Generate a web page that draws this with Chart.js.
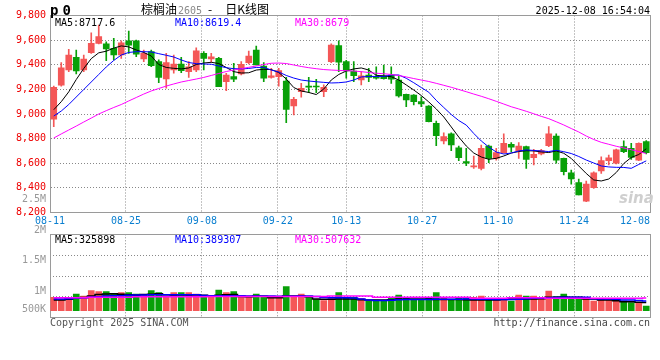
<!DOCTYPE html>
<html><head><meta charset="utf-8">
<script src="https://cdn.jsdelivr.net/npm/chart.js@4.4.1/dist/chart.umd.min.js"></script>
<style>
html,body{margin:0;padding:0;background:#fff;}
#wrap{position:relative;width:660px;height:360px;overflow:hidden;background:#fff;}
canvas{position:absolute;left:0;}
#cA{top:0;}
#cB{top:190px;}
.t{position:absolute;white-space:nowrap;font-family:"DejaVu Sans Mono",monospace;line-height:1;}
.cjk{font-family:"Noto Sans CJK SC",sans-serif;}
</style></head><body>
<div id="wrap">
<canvas id="cA" width="660" height="232"></canvas>
<canvas id="cB" width="660" height="150"></canvas>
<div class="t" style="left:50px;top:3px;font-weight:bold;font-size:14px;letter-spacing:4px;">p0</div>
<div class="t" id="title" style="left:141px;top:3px;font-size:12px;"></div>
<div class="t" id="stamp" style="right:10px;top:6px;font-size:10px;color:#000;"></div>
<div class="t" id="maP" style="left:55px;top:18px;font-size:10px;"></div>
<div class="t" id="maV" style="left:55px;top:235px;font-size:10px;"></div>
<div class="t" style="left:619px;top:191px;font-size:15px;font-weight:bold;font-style:italic;color:#cfcfcf;font-family:'DejaVu Sans',sans-serif;">sina</div>
<div class="t" style="left:50px;top:318px;font-size:10px;color:#555;">Copyright 2025 SINA.COM</div>
<div class="t" style="right:10px;top:318px;font-size:10px;color:#444;">http://finance.sina.com.cn</div>
</div>
<script>
// ---------------- data ----------------
const productName = '棕榈油';
const contractCode = '2605';
const chartKind = '日K线图';
const stampText = '2025-12-08 16:54:04';

const dates = ['08-11','08-12','08-13','08-14','08-15','08-18','08-19','08-20','08-21','08-22',
'08-25','08-26','08-27','08-28','08-29','09-01','09-02','09-03','09-04','09-05',
'09-08','09-09','09-10','09-11','09-12','09-15','09-16','09-17','09-18','09-19',
'09-22','09-23','09-24','09-25','09-26','09-29','09-30','10-09','10-10','10-13',
'10-14','10-15','10-16','10-17','10-20','10-21','10-22','10-23','10-24','10-27',
'10-28','10-29','10-30','10-31','11-03','11-04','11-05','11-06','11-07','11-10',
'11-11','11-12','11-13','11-14','11-17','11-18','11-19','11-20','11-21','11-24',
'11-25','11-26','11-27','11-28','12-01','12-02','12-03','12-04','12-05','12-08'];

const xTickLabels = ['08-11','08-25','09-08','09-22','10-13','10-27','11-10','11-24','12-08'];
const priceTicks = [8200,8400,8600,8800,9000,9200,9400,9600,9800];

const openPx = [8957,9235,9357,9460,9357,9498,9574,9569,9534,9479,
9595,9595,9447,9506,9425,9284,9357,9406,9344,9357,
9493,9447,9452,9262,9303,9325,9417,9520,9390,9298,
9303,9268,9065,9181,9227,9225,9181,9425,9555,9425,
9349,9276,9317,9303,9309,9317,9276,9160,9154,9100,
9065,8924,8781,8838,8726,8613,8570,8559,8740,8640,
8686,8754,8702,8735,8645,8675,8743,8821,8640,8523,
8442,8293,8401,8537,8621,8600,8735,8721,8626,8775];
const highPx = [9227,9417,9525,9520,9479,9660,9723,9587,9615,9595,
9674,9601,9520,9520,9439,9493,9479,9460,9425,9538,
9506,9493,9460,9331,9412,9425,9512,9552,9417,9371,
9371,9298,9136,9249,9298,9282,9236,9569,9595,9435,
9425,9344,9371,9384,9398,9384,9309,9162,9157,9140,
9068,8943,8848,8848,8740,8721,8659,8748,8748,8721,
8838,8767,8767,8740,8713,8713,8897,8838,8642,8545,
8472,8456,8531,8653,8667,8716,8783,8762,8765,8785];
const lowPx = [8897,9227,9344,9325,9344,9493,9569,9433,9439,9452,
9493,9465,9425,9384,9254,9209,9331,9335,9298,9344,
9357,9420,9222,9189,9262,9317,9406,9398,9262,9290,
9227,8929,8992,9136,9173,9173,9140,9417,9344,9290,
9262,9236,9262,9282,9282,9249,9136,9059,9073,9059,
8935,8743,8756,8702,8620,8580,8559,8545,8605,8626,
8681,8694,8640,8559,8586,8667,8735,8600,8505,8431,
8342,8288,8396,8518,8586,8594,8686,8632,8620,8675];
const closePx = [9217,9376,9479,9349,9447,9574,9628,9528,9479,9579,
9560,9485,9493,9392,9298,9417,9406,9352,9384,9514,
9452,9465,9222,9317,9282,9404,9471,9398,9290,9309,
9352,9038,9119,9209,9217,9219,9217,9560,9420,9349,
9311,9309,9298,9290,9287,9282,9146,9114,9100,9081,
8937,8824,8816,8748,8645,8600,8574,8721,8640,8686,
8762,8730,8740,8632,8673,8702,8838,8626,8531,8472,
8342,8431,8523,8621,8645,8708,8694,8648,8762,8686];

const ma5 = [9035,9100,9180,9280,9370,9450,9497,9510,9535,9553,
9545,9520,9500,9471,9402,9378,9371,9366,9374,9402,
9414,9420,9410,9378,9344,9333,9335,9357,9363,9361,
9337,9284,9215,9187,9175,9158,9203,9276,9321,9349,
9366,9374,9357,9314,9309,9303,9276,9236,9195,9150,
9098,9041,8976,8895,8813,8740,8683,8651,8632,8640,
8659,8683,8695,8702,8700,8692,8687,8700,8681,8639,
8578,8517,8464,8456,8472,8525,8598,8647,8671,8717.6];
const ma10 = [8984,9024,9077,9138,9199,9260,9321,9382,9435,9479,
9500,9506,9506,9504,9490,9477,9463,9439,9418,9409,
9406,9404,9390,9376,9368,9366,9370,9378,9379,9357,
9341,9313,9292,9276,9268,9262,9257,9252,9254,9260,
9276,9301,9305,9305,9305,9317,9317,9290,9254,9215,
9177,9111,9053,8996,8947,8910,8842,8781,8732,8691,
8675,8683,8700,8708,8704,8700,8695,8705,8694,8679,
8655,8626,8602,8578,8570,8567,8566,8559,8590,8619.4];
const ma30 = [8805,8838,8870,8902,8935,8967,9000,9027,9053,9077,
9106,9134,9162,9187,9207,9227,9244,9260,9272,9284,
9297,9313,9329,9345,9357,9368,9379,9390,9402,9412,
9414,9410,9398,9386,9376,9368,9361,9357,9354,9352,
9349,9344,9337,9331,9327,9321,9313,9301,9288,9276,
9264,9249,9233,9217,9199,9181,9162,9144,9124,9103,
9081,9059,9041,9022,9002,8981,8962,8937,8911,8882,
8854,8821,8793,8770,8754,8738,8724,8710,8695,8679];
const priceMaLegend = [8717.6, 8619.4, 8679];

const volume = [532,428,428,668,588,800,760,760,692,720,
720,668,628,800,720,588,720,720,720,668,
532,588,828,720,760,588,588,668,588,532,
560,960,588,668,588,452,400,532,720,532,
532,492,388,428,400,532,628,492,452,452,
532,720,492,452,532,532,532,588,480,492,
492,388,628,588,588,492,788,560,668,532,
532,492,388,452,428,428,388,320,320,188].map(v => v * 1000);
const volMa5 = [430,430,460,520,530,590,650,670,680,660,
640,630,650,660,680,640,630,640,630,640,
620,600,620,640,650,570,560,590,580,520,
520,590,590,590,560,470,460,460,470,470,
470,440,430,430,430,440,470,470,470,470,
470,450,450,450,450,440,430,430,430,430,
450,470,470,470,470,480,540,540,550,540,
540,470,470,430,430,400,360,360,340,325.898].map(v => v * 1000);
const volMa10 = [470,470,480,510,520,540,560,590,600,600,
620,630,630,640,640,640,640,640,640,640,
610,600,600,600,600,600,590,590,590,590,
580,580,580,590,590,570,530,520,520,520,
510,470,430,410,410,420,440,450,450,450,
450,460,460,460,460,470,470,460,460,450,
450,450,460,480,500,500,510,530,540,540,
540,540,480,470,470,460,430,430,410,389.307].map(v => v * 1000);
const volMa30 = [520,520,520,520,520,540,540,540,540,540,
540,560,560,560,560,560,560,560,560,560,
560,570,570,570,570,570,570,570,570,570,
570,570,570,570,570,570,570,590,590,590,
590,590,590,540,540,540,540,540,540,540,
540,540,540,540,540,540,500,500,500,500,
500,520,520,520,520,520,500,500,500,500,
500,500,500,500,500,500,500,500,500,507.632].map(v => v * 1000);
const volMaLegend = [325898, 389307, 507632];
const volTickLabels = ['2.5M','2M','1.5M','1M','500K'];
const volTickValues = [2500000,2000000,1500000,1000000,500000];

// ---------------- styles / layout ----------------
const MONO = "'DejaVu Sans Mono', monospace";
const RED = '#f45757', GREEN = '#08a008';
const GRID = '#888888', BORDER = '#9a9a9a';
const MA_COLORS = ['#000000', '#0000ff', '#ff00ff'];
const AREA_A = {top: 15.5, bottom: 212.5, left: 50, right: 650, h: 232};
const AREA_B = {top: 44.3, bottom: 127.7, left: 50, right: 650, h: 150};
const VOL_MIN = -280000, VOL_MAX = 3056000;      // bar scale of the volume panel
const VL_MIN = 562300, VL_MAX = 1929500;          // scale used by the volume tick labels

const candleColor = closePx.map((c, i) => c >= openPx[i] ? RED : GREEN);
const tickIdx = xTickLabels.map(l => dates.indexOf(l));
const lastIdx = dates.length - 1;

// texts
document.getElementById('title').innerHTML =
  '<span class="cjk">' + productName + '</span>' +
  '<span style="color:#8a8a8a;font-size:10px;margin-left:1px;">' + contractCode + '</span>' +
  '<span class="cjk" style="margin-left:6px;">-</span>' +
  '<span class="cjk" style="margin-left:13px;">' + chartKind + '</span>';
document.getElementById('stamp').textContent = stampText;
const maNames = ['MA5', 'MA10', 'MA30'];
const maLeft = [0, 120, 240];
function writeLegend(el, vals) {
  el.innerHTML = vals.map((v, k) =>
    '<span style="position:absolute;left:' + maLeft[k] + 'px;color:' + MA_COLORS[k] + '">' + maNames[k] + ':' + v + '</span>').join('');
}
writeLegend(document.getElementById('maP'), priceMaLegend);
writeLegend(document.getElementById('maV'), volMaLegend);

const zeroFit = s => { if (s.isHorizontal()) s.height = 0; else s.width = 0; };
function dateGridAxis(extra) {
  return Object.assign({
    type: 'linear', axis: 'x', position: 'bottom', min: 0, max: lastIdx, bounds: 'data', offset: false,
    afterBuildTicks: s => { s.ticks = tickIdx.map(v => ({value: v})); },
    ticks: {display: false},
    grid: {display: true, color: GRID, lineWidth: 1, drawTicks: false, offset: false},
    border: {display: true, color: BORDER, width: 1, dash: [1, 2]},
    afterFit: zeroFit
  }, extra || {});
}
function borderAxis(axis, position) {
  return {
    type: 'linear', axis: axis, position: position, display: true, offset: false,
    ticks: {display: false}, grid: {display: false, drawTicks: false, offset: false},
    border: {display: true, color: BORDER, width: 1}, afterFit: zeroFit
  };
}
const lineDs = (data, k, extra) => Object.assign({
  type: 'line', data: data, borderColor: MA_COLORS[k], borderWidth: 1, pointRadius: 0,
  tension: 0, fill: false, xAxisID: 'x', yAxisID: 'y', order: 0
}, extra || {});

// ---------------- price chart ----------------
new Chart(document.getElementById('cA'), {
  type: 'bar',
  data: {
    labels: dates,
    datasets: [
      lineDs(ma30, 2), lineDs(ma10, 1), lineDs(ma5, 0),
      {type: 'bar', data: openPx.map((o, i) => [o, closePx[i]]), backgroundColor: candleColor,
        barThickness: 6, minBarLength: 1, grouped: false, borderWidth: 0, xAxisID: 'x', yAxisID: 'y', order: 1},
      {type: 'bar', data: lowPx.map((l, i) => [l, highPx[i]]), backgroundColor: candleColor,
        barThickness: 1, grouped: false, borderWidth: 0, xAxisID: 'x', yAxisID: 'y', order: 2}
    ]
  },
  options: {
    responsive: false, animation: false, events: [], devicePixelRatio: 1,
    layout: {padding: {top: AREA_A.top, right: 660 - AREA_A.right, left: 0, bottom: 0}, autoPadding: false},
    plugins: {legend: {display: false}, tooltip: {enabled: false}},
    scales: {
      x: {type: 'category', display: false, offset: true},
      xg: dateGridAxis({weight: 0}),
      xl: {
        type: 'linear', axis: 'x', position: 'bottom', weight: 1, min: 0, max: lastIdx, bounds: 'data', offset: false,
        afterBuildTicks: s => {
          const perPx = (s.max - s.min) / (AREA_A.right - AREA_A.left);
          const halfW = 15;  // half the width of a 5-character label
          s.ticks = tickIdx.map(v => ({value: Math.min(v, s.max - halfW * perPx)}));
        },
        ticks: {color: '#0a7fd0', font: {family: MONO, size: 10}, padding: 3, autoSkip: false,
          maxRotation: 0, minRotation: 0, callback: (v, k) => xTickLabels[k]},
        grid: {display: false, drawTicks: false, offset: false}, border: {display: false},
        afterFit: s => { s.height = AREA_A.h - AREA_A.bottom; }
      },
      xt: borderAxis('x', 'top'),
      y: {
        type: 'linear', position: 'left', min: priceTicks[0], max: priceTicks[priceTicks.length - 1], bounds: 'data',
        afterBuildTicks: s => { s.ticks = priceTicks.map(v => ({value: v})); },
        ticks: {color: '#ee0000', font: {family: MONO, size: 10}, padding: 4, autoSkip: false},
        grid: {display: true, color: GRID, lineWidth: 1, drawTicks: false},
        border: {display: true, color: BORDER, width: 1, dash: [1, 2]},
        afterFit: s => { s.width = AREA_A.left; }
      },
      yr: borderAxis('y', 'right')
    }
  }
});

// ---------------- volume chart ----------------
new Chart(document.getElementById('cB'), {
  type: 'bar',
  data: {
    labels: dates,
    datasets: [
      lineDs(volMa30, 2, {yAxisID: 'yv', stepped: 'middle', borderWidth: 1.5}),
      lineDs(volMa10, 1, {yAxisID: 'yv', stepped: 'middle', borderWidth: 1.5}),
      lineDs(volMa5, 0, {yAxisID: 'yv', stepped: 'middle', borderWidth: 1.5}),
      {type: 'bar', data: volume, backgroundColor: candleColor, barThickness: 6, grouped: false,
        borderWidth: 0, xAxisID: 'x', yAxisID: 'yv', order: 1}
    ]
  },
  options: {
    responsive: false, animation: false, events: [], devicePixelRatio: 1,
    layout: {padding: {top: AREA_B.top, right: 660 - AREA_B.right, left: 0, bottom: AREA_B.h - AREA_B.bottom}, autoPadding: false},
    plugins: {legend: {display: false}, tooltip: {enabled: false}},
    scales: {
      x: {type: 'category', display: false, offset: true},
      xg: dateGridAxis(),
      xt: borderAxis('x', 'top'),
      yv: {
        type: 'linear', axis: 'y', position: 'right', min: VOL_MIN, max: VOL_MAX, bounds: 'data',
        afterBuildTicks: s => { s.ticks = [0, 1, 2, 3, 4].map(k => ({value: s.min + k * (s.max - s.min) / 4})); },
        ticks: {display: false},
        grid: {display: true, color: GRID, lineWidth: 1, drawTicks: false},
        border: {display: true, color: BORDER, width: 1, dash: [1, 2]},
        afterFit: zeroFit
      },
      yl: {
        type: 'linear', axis: 'y', position: 'left', min: VL_MIN, max: VL_MAX, bounds: 'data',
        afterBuildTicks: s => {
          const perPx = (s.max - s.min) / (AREA_B.bottom - AREA_B.top);
          s.ticks = volTickValues.map(v => ({value: Math.max(v, s.min + 8 * perPx)}));
        },
        ticks: {color: '#999999', font: {family: MONO, size: 10}, padding: 4, autoSkip: false,
          callback: (v, k) => volTickLabels[k]},
        grid: {display: false, drawTicks: false},
        border: {display: true, color: BORDER, width: 1},
        afterFit: s => { s.width = AREA_B.left; }
      }
    }
  }
});
</script>
</body></html>
